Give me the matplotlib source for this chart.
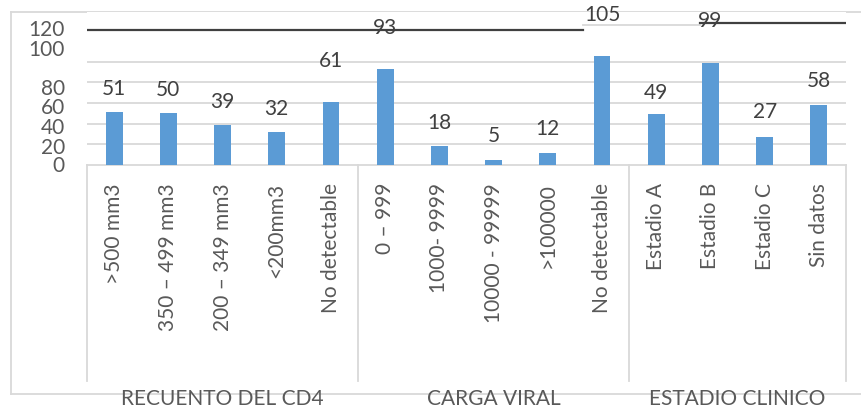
import matplotlib.pyplot as plt
from matplotlib.lines import Line2D
import matplotlib.transforms as mtransforms

plt.rcParams['font.family'] = ['Lato', 'DejaVu Sans']

# data
categories = [">500 mm3", "350 – 499 mm3", "200 – 349 mm3", "<200mm3", "No detectable",
              "0 – 999", "1000- 9999", "10000 - 99999", ">100000", "No detectable",
              "Estadio A", "Estadio B", "Estadio C", "Sin datos"]
values = [51, 50, 39, 32, 61, 93, 18, 5, 12, 105, 49, 99, 27, 58]
groups = ["RECUENTO DEL CD4", "CARGA VIRAL", "ESTADIO CLINICO"]
group_sizes = [5, 5, 4]
ytick_labels = ["0", "20", "40", "60", "80", "100", "120"]

# label placement (the reference has its axis labels shifted)
ytick_pos = [0.5, 18.5, 37.7, 57, 75.8, 113.5, 132.9]
label_offsets = [23, 23, 23, 23, 41, 41, 23, 24, 24, 41, 21, 42, 25, 24]

W, H = 861, 408
fig = plt.figure(figsize=(W / 100, H / 100), dpi=100)
x0, x1, y0, y1 = 87, 846, 165, 12
ax = fig.add_axes([x0 / W, (H - y0) / H, (x1 - x0) / W, (y0 - y1) / H])

bar_color = "#5b9bd5"
xs = list(range(len(values)))
ax.bar(xs, values, width=0.31, color=bar_color, zorder=3)
ax.set_xlim(-0.5, len(values) - 0.5)
ax.set_ylim(0, 148)

for g in range(20, 101, 20):
    ax.axhline(g, color="#d9d9d9", lw=1.3, zorder=1)

# stray lines near the top
ax.plot([-0.5, 8.65], [130.4, 130.4], color="#404040", lw=1.6, zorder=2)
ax.plot([8.65, 10.81], [135.3, 135.3], color="#d9d9d9", lw=1.3, zorder=2)
ax.plot([10.81, 13.5], [137.5, 137.5], color="#404040", lw=1.6, zorder=2)

for x, v, off in zip(xs, values, label_offsets):
    ax.annotate(str(v), (x, v), xytext=(0, off), textcoords="offset pixels",
                ha="center", va="center", fontsize=15, color="#404040")

ax.set_yticks(ytick_pos, ytick_labels)
ax.tick_params(axis="y", length=0, pad=16, labelsize=15, labelcolor="#595959")
ax.set_xticks(xs, categories, rotation=90)
ax.tick_params(axis="x", length=0, pad=13, labelsize=15, labelcolor="#595959")

for s in ["top", "right", "left"]:
    ax.spines[s].set_visible(False)
ax.spines["bottom"].set_color("#d9d9d9")
ax.spines["bottom"].set_linewidth(1.3)

# multi-level category axis
trans = mtransforms.blended_transform_factory(ax.transData, ax.transAxes)
sep_bottom = (y0 - 381) / (y0 - y1)
lab_y = (y0 - 399) / (y0 - y1)
start = -0.5
for name, n in zip(groups, group_sizes):
    ax.plot([start, start], [0, sep_bottom], color="#d9d9d9", lw=1.3,
            transform=trans, clip_on=False)
    ax.text(start + n / 2, lab_y, name, transform=trans, ha="center", va="center",
            fontsize=15, color="#595959", zorder=5)
    start += n
ax.plot([start, start], [0, sep_bottom], color="#d9d9d9", lw=1.3,
        transform=trans, clip_on=False)

# chart border
def px(x, y):
    return x / W, (H - y) / H

for (xa, ya), (xb, yb) in [((11, 12), (861, 12)), ((11, 12), (11, 394)), ((11, 394), (861, 394))]:
    (fx0, fy0), (fx1, fy1) = px(xa, ya), px(xb, yb)
    fig.add_artist(Line2D([fx0, fx1], [fy0, fy1], color="#d9d9d9", lw=1.3, zorder=0))

fig.savefig("out.png", dpi=100)
